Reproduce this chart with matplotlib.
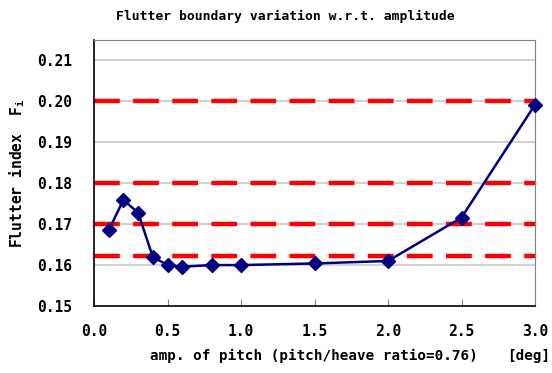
import matplotlib
matplotlib.use("Agg")
import matplotlib.pyplot as plt

amp = [0.1, 0.2, 0.3, 0.4, 0.5, 0.6, 0.8, 1.0, 1.5, 2.0, 2.5, 3.0]
flutter = [0.1685, 0.1759, 0.1728, 0.1620, 0.1600, 0.1596, 0.1600, 0.1600, 0.1604, 0.1610, 0.1716, 0.1992]
ref_lines = [0.200, 0.180, 0.170, 0.1623]
xticks = [0.0, 0.5, 1.0, 1.5, 2.0, 2.5, 3.0]
yticks = [0.15, 0.16, 0.17, 0.18, 0.19, 0.20, 0.21]

plt.rcParams['font.family'] = ['DejaVu Sans Mono', 'DejaVu Sans']
plt.rcParams['mathtext.fontset'] = 'custom'
plt.rcParams['mathtext.rm'] = 'DejaVu Sans Mono:bold'
fig = plt.figure(figsize=(5.52, 3.73), dpi=100)
ax = fig.add_axes([94/552, 67/373, 441/552, 266/373])

for y in yticks[1:]:
    ax.axhline(y, color='#c8c8c8', lw=1.2, zorder=1)
for y in ref_lines:
    ax.axhline(y, color='#ff0000', lw=3.2, dashes=(5.8, 3.0), zorder=2)

ax.plot(amp, flutter, color='#000080', lw=1.8, marker='D', markersize=7.5,
        markerfacecolor='#000080', markeredgecolor='#000080', zorder=3, clip_on=False)

ax.set_xlim(0, 3.0)
ax.set_ylim(0.15, 0.215)
ax.set_xticks(xticks)
ax.set_xticklabels([f"{v:.1f}" for v in xticks], fontweight='bold', fontsize=10.5)
ax.set_yticks(yticks)
ax.set_yticklabels([f"{v:.2f}" for v in yticks], fontweight='bold', fontsize=10.5)
ax.tick_params(axis='x', direction='in', length=5, color='#808080', pad=13)
ax.tick_params(axis='y', length=0, pad=16)

for s in ['top', 'right']:
    ax.spines[s].set_color('#808080')
for s in ['left', 'bottom']:
    ax.spines[s].set_color('#000000')
    ax.spines[s].set_linewidth(1.2)

fig.text(285/552, 1 - 16/373, "Flutter boundary variation w.r.t. amplitude", ha='center', va='center',
         fontweight='bold', fontsize=9.4)
fig.text(17/552, 1 - 174/373, "Flutter index  F$_{\\mathrm{i}}$", ha='center', va='center',
         rotation=90, fontweight='bold', fontsize=10.5)
fig.text(314/552, 1 - 356/373, "amp. of pitch (pitch/heave ratio=0.76)", ha='center', va='center',
         fontweight='bold', fontsize=10.3)
fig.text(529/552, 1 - 356/373, "[deg]", ha='center', va='center', fontweight='bold', fontsize=10.3)

fig.savefig("out.png", dpi=100)
